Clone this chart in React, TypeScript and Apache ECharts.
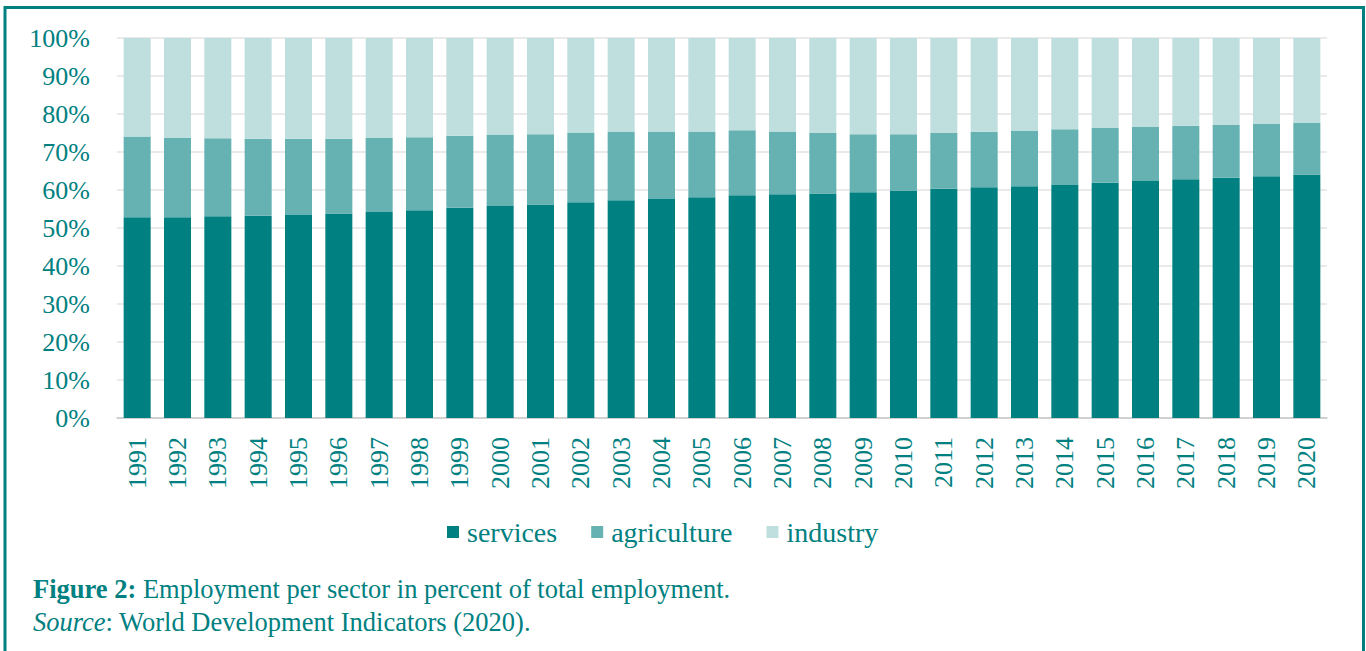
import React, { useEffect, useRef } from "react";
import * as echarts from "echarts";

const years = [
  "1991", "1992", "1993", "1994", "1995", "1996", "1997", "1998", "1999", "2000",
  "2001", "2002", "2003", "2004", "2005", "2006", "2007", "2008", "2009", "2010",
  "2011", "2012", "2013", "2014", "2015", "2016", "2017", "2018", "2019", "2020",
];

// share of services in total employment (%)
const services = [
  52.8, 52.8, 53.1, 53.2, 53.4, 53.8, 54.2, 54.7, 55.3, 55.8,
  56.2, 56.8, 57.3, 57.6, 58.1, 58.6, 58.9, 59.1, 59.4, 59.9,
  60.3, 60.7, 61.0, 61.3, 61.9, 62.4, 62.8, 63.2, 63.6, 64.1,
];

// share of agriculture in total employment (%)
const agriculture = [
  21.3, 20.9, 20.5, 20.3, 20.1, 19.7, 19.5, 19.2, 19.0, 18.8,
  18.5, 18.3, 18.1, 17.8, 17.3, 17.1, 16.5, 15.9, 15.3, 14.8,
  14.7, 14.6, 14.5, 14.7, 14.4, 14.2, 14.1, 13.9, 13.8, 13.5,
];

// share of industry in total employment (%)
const industry = [
  25.9, 26.3, 26.4, 26.5, 26.5, 26.5, 26.3, 26.1, 25.7, 25.4,
  25.3, 24.9, 24.6, 24.6, 24.6, 24.3, 24.6, 25.0, 25.3, 25.3,
  25.0, 24.7, 24.5, 24.0, 23.7, 23.4, 23.1, 22.9, 22.6, 22.4,
];

const TEAL = "#008080";
const FONT = '"Liberation Serif", "Times New Roman", serif';

export default function App() {
  const ref = useRef<HTMLDivElement>(null);

  useEffect(() => {
    if (!ref.current) return;
    const chart = echarts.init(ref.current, null, { renderer: "svg" });
    chart.setOption({
      animation: false,
      textStyle: { fontFamily: FONT },
      grid: { left: 117, right: 39, top: 38, bottom: 233, containLabel: false },
      legend: {
        left: 442,
        top: 513,
        itemWidth: 12,
        itemHeight: 12,
        itemGap: 34,
        icon: "rect",
        textStyle: { color: TEAL, fontSize: 28, fontFamily: FONT, padding: [0, 0, 0, 3] },
        data: ["services", "agriculture", "industry"],
      },
      xAxis: {
        type: "category",
        data: years,
        axisTick: { show: false },
        axisLine: { lineStyle: { color: "#c8c8c8", width: 1.5 } },
        axisLabel: {
          rotate: 90,
          color: TEAL,
          fontSize: 26,
          fontFamily: FONT,
          margin: 19,
          interval: 0,
        },
      },
      yAxis: {
        type: "value",
        min: 0,
        max: 100,
        interval: 10,
        axisLine: { show: false },
        axisTick: { show: false },
        splitLine: { lineStyle: { color: "#e3e3e3", width: 1.5 } },
        axisLabel: {
          formatter: "{value}%",
          color: TEAL,
          fontSize: 26,
          fontFamily: FONT,
          margin: 27,
        },
      },
      series: [
        {
          name: "services",
          type: "bar",
          stack: "total",
          data: services,
          barWidth: "67%",
          itemStyle: { color: TEAL },
        },
        {
          name: "agriculture",
          type: "bar",
          stack: "total",
          data: agriculture,
          barWidth: "67%",
          itemStyle: { color: "#66b2b2" },
        },
        {
          name: "industry",
          type: "bar",
          stack: "total",
          data: industry,
          barWidth: "67%",
          itemStyle: { color: "#bfdfdf" },
        },
      ],
      graphic: [
        {
          type: "rect",
          shape: { x: 5, y: 7.5, width: 1358.5, height: 700 },
          style: { fill: "none", stroke: TEAL, lineWidth: 3 },
          silent: true,
        },
        {
          type: "text",
          left: 33,
          top: 575,
          style: {
            text: "{b|Figure 2:} Employment per sector in percent of total employment.",
            fill: TEAL,
            font: `26.5px ${FONT}`,
            rich: {
              b: { fontWeight: "bold", fontSize: 26.5, fontFamily: FONT, fill: TEAL },
            },
          },
        },
        {
          type: "text",
          left: 33,
          top: 608,
          style: {
            text: "{i|Source}: World Development Indicators (2020).",
            fill: TEAL,
            font: `26.5px ${FONT}`,
            rich: {
              i: { fontStyle: "italic", fontSize: 26.5, fontFamily: FONT, fill: TEAL },
            },
          },
        },
      ],
    });
    return () => chart.dispose();
  }, []);

  return (
    <div
      ref={ref}
      style={{ position: "fixed", left: 0, top: 0, width: 1366, height: 651, background: "#fff" }}
    />
  );
}
